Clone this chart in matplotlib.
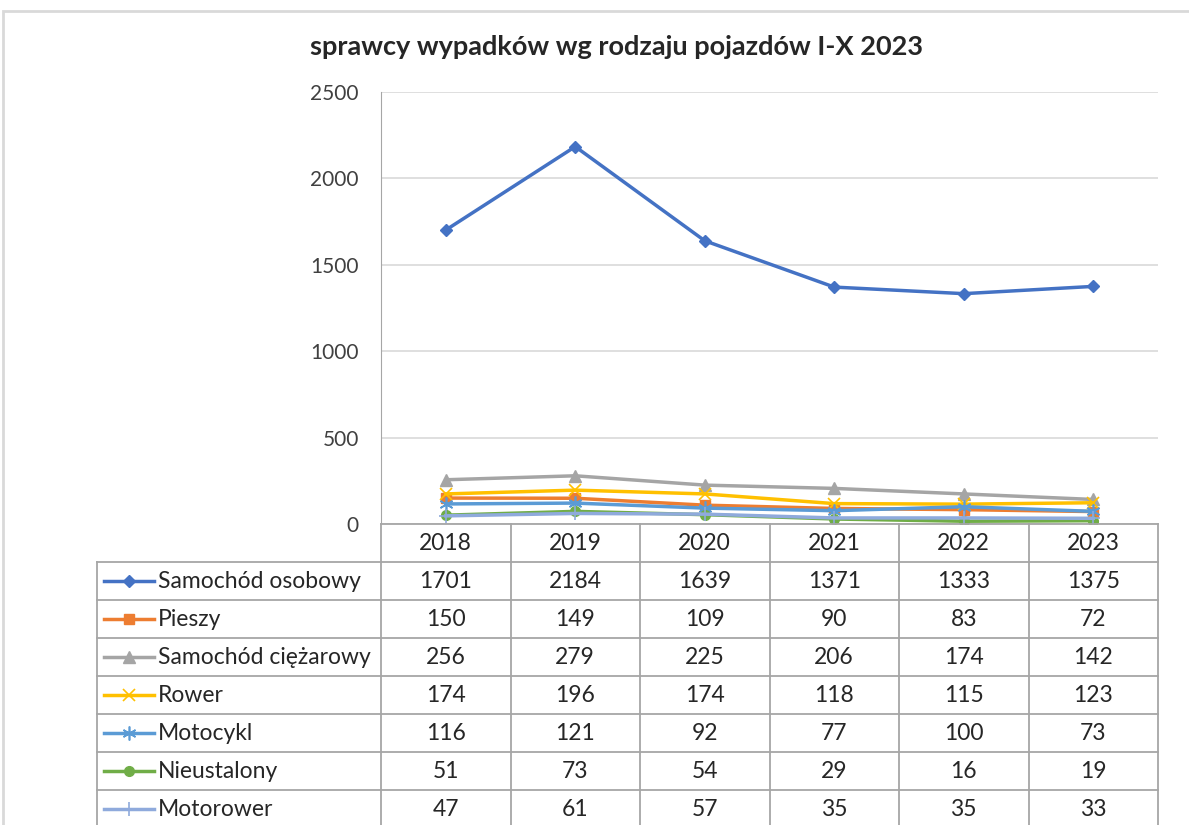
import matplotlib.pyplot as plt
from matplotlib.lines import Line2D
from matplotlib.patches import Rectangle

plt.rcParams['font.family'] = ['Lato', 'DejaVu Sans']

years = ["2018", "2019", "2020", "2021", "2022", "2023"]
names = ["Samochód osobowy", "Pieszy", "Samochód ciężarowy", "Rower",
         "Motocykl", "Nieustalony", "Motorower"]
osobowy = [1701, 2184, 1639, 1371, 1333, 1375]
pieszy = [150, 149, 109, 90, 83, 72]
ciezarowy = [256, 279, 225, 206, 174, 142]
rower = [174, 196, 174, 118, 115, 123]
motocykl = [116, 121, 92, 77, 100, 73]
nieustalony = [51, 73, 54, 29, 16, 19]
motorower = [47, 61, 57, 35, 35, 33]
series = [osobowy, pieszy, ciezarowy, rower, motocykl, nieustalony, motorower]

colors = ["#4472C4", "#ED7D31", "#A5A5A5", "#FFC000", "#5B9BD5", "#70AD47", "#8FAADC"]
markers = ["D", "s", "^", "x", (6, 2, 0), "o", "+"]
msizes = [6, 7, 8, 9, 10, 7, 10]
thin = [False, False, False, True, True, False, True]

W, H = 1189, 825
fig = plt.figure(figsize=(W / 100, H / 100), dpi=100)

def fx(px):
    return px / W

def fy(py):
    return 1 - py / H

# chart border
fig.add_artist(Rectangle((fx(3), fy(900)), fx(1300), fy(11) - fy(900),
                         transform=fig.transFigure, fill=False,
                         edgecolor="#D9D9D9", lw=2))

left, right, top, bottom = 381, 1158, 92, 524
ax = fig.add_axes([fx(left), fy(bottom), fx(right - left), fy(top) - fy(bottom)])

x = list(range(len(years)))
for vals, c, m, ms, t in zip(series, colors, markers, msizes, thin):
    ax.plot(x, vals, color=c, lw=2.5, marker=m, markersize=ms,
            markeredgewidth=1.2 if t else 1, markerfacecolor=c, markeredgecolor=c)

ax.set_xlim(-0.5, len(years) - 0.5)
ax.set_ylim(0, 2500)
ax.set_yticks(range(0, 2501, 500))
ax.yaxis.grid(True, color="#D9D9D9", lw=1.2)
ax.set_axisbelow(True)
ax.set_xticks([])
for s in ["top", "right", "bottom"]:
    ax.spines[s].set_visible(False)
ax.spines["left"].set_color("#A6A6A6")
ax.tick_params(axis="y", length=0, pad=16, labelsize=15, labelcolor="#404040")

fig.text(fx(617), fy(47), "sprawcy wypadków wg rodzaju pojazdów I-X 2023",
         ha="center", va="center", fontsize=19.5, fontweight="bold", color="#262626")

# data table
tcol = "#A6A6A6"
row_h = 38
col_w = (right - left) / len(years)
tleft = 97
n_rows = len(names)
tbottom = bottom + row_h * (n_rows + 1)
fs = 16.5

def hline(y, x0, x1):
    fig.add_artist(Line2D([fx(x0), fx(x1)], [fy(y), fy(y)], transform=fig.transFigure,
                          color=tcol, lw=1.3))

def vline(xp, y0, y1):
    fig.add_artist(Line2D([fx(xp), fx(xp)], [fy(y0), fy(y1)], transform=fig.transFigure,
                          color=tcol, lw=1.3))

hline(bottom, left, right)
for i in range(1, n_rows + 2):
    hline(bottom + i * row_h, tleft, right)
for j in range(len(years) + 1):
    vline(left + j * col_w, bottom, tbottom)
vline(tleft, bottom + row_h, tbottom)

for j, yr in enumerate(years):
    fig.text(fx(left + (j + 0.5) * col_w), fy(bottom + row_h / 2), yr,
             ha="center", va="center", fontsize=fs, color="#262626")

for i, (nm, vals, c, m, ms, t) in enumerate(zip(names, series, colors, markers, msizes, thin)):
    yc = bottom + (i + 1.5) * row_h
    fig.add_artist(Line2D([fx(104), fx(129), fx(154)], [fy(yc)] * 3,
                          transform=fig.transFigure, color=c, lw=2.5,
                          marker=m, markersize=ms, markevery=[1],
                          markerfacecolor=c, markeredgecolor=c,
                          markeredgewidth=1.2 if t else 1))
    fig.text(fx(158), fy(yc), nm, ha="left", va="center", fontsize=fs, color="#262626")
    for j, v in enumerate(vals):
        fig.text(fx(left + (j + 0.5) * col_w), fy(yc), str(v),
                 ha="center", va="center", fontsize=fs, color="#262626")

fig.savefig("out.png", dpi=100)
